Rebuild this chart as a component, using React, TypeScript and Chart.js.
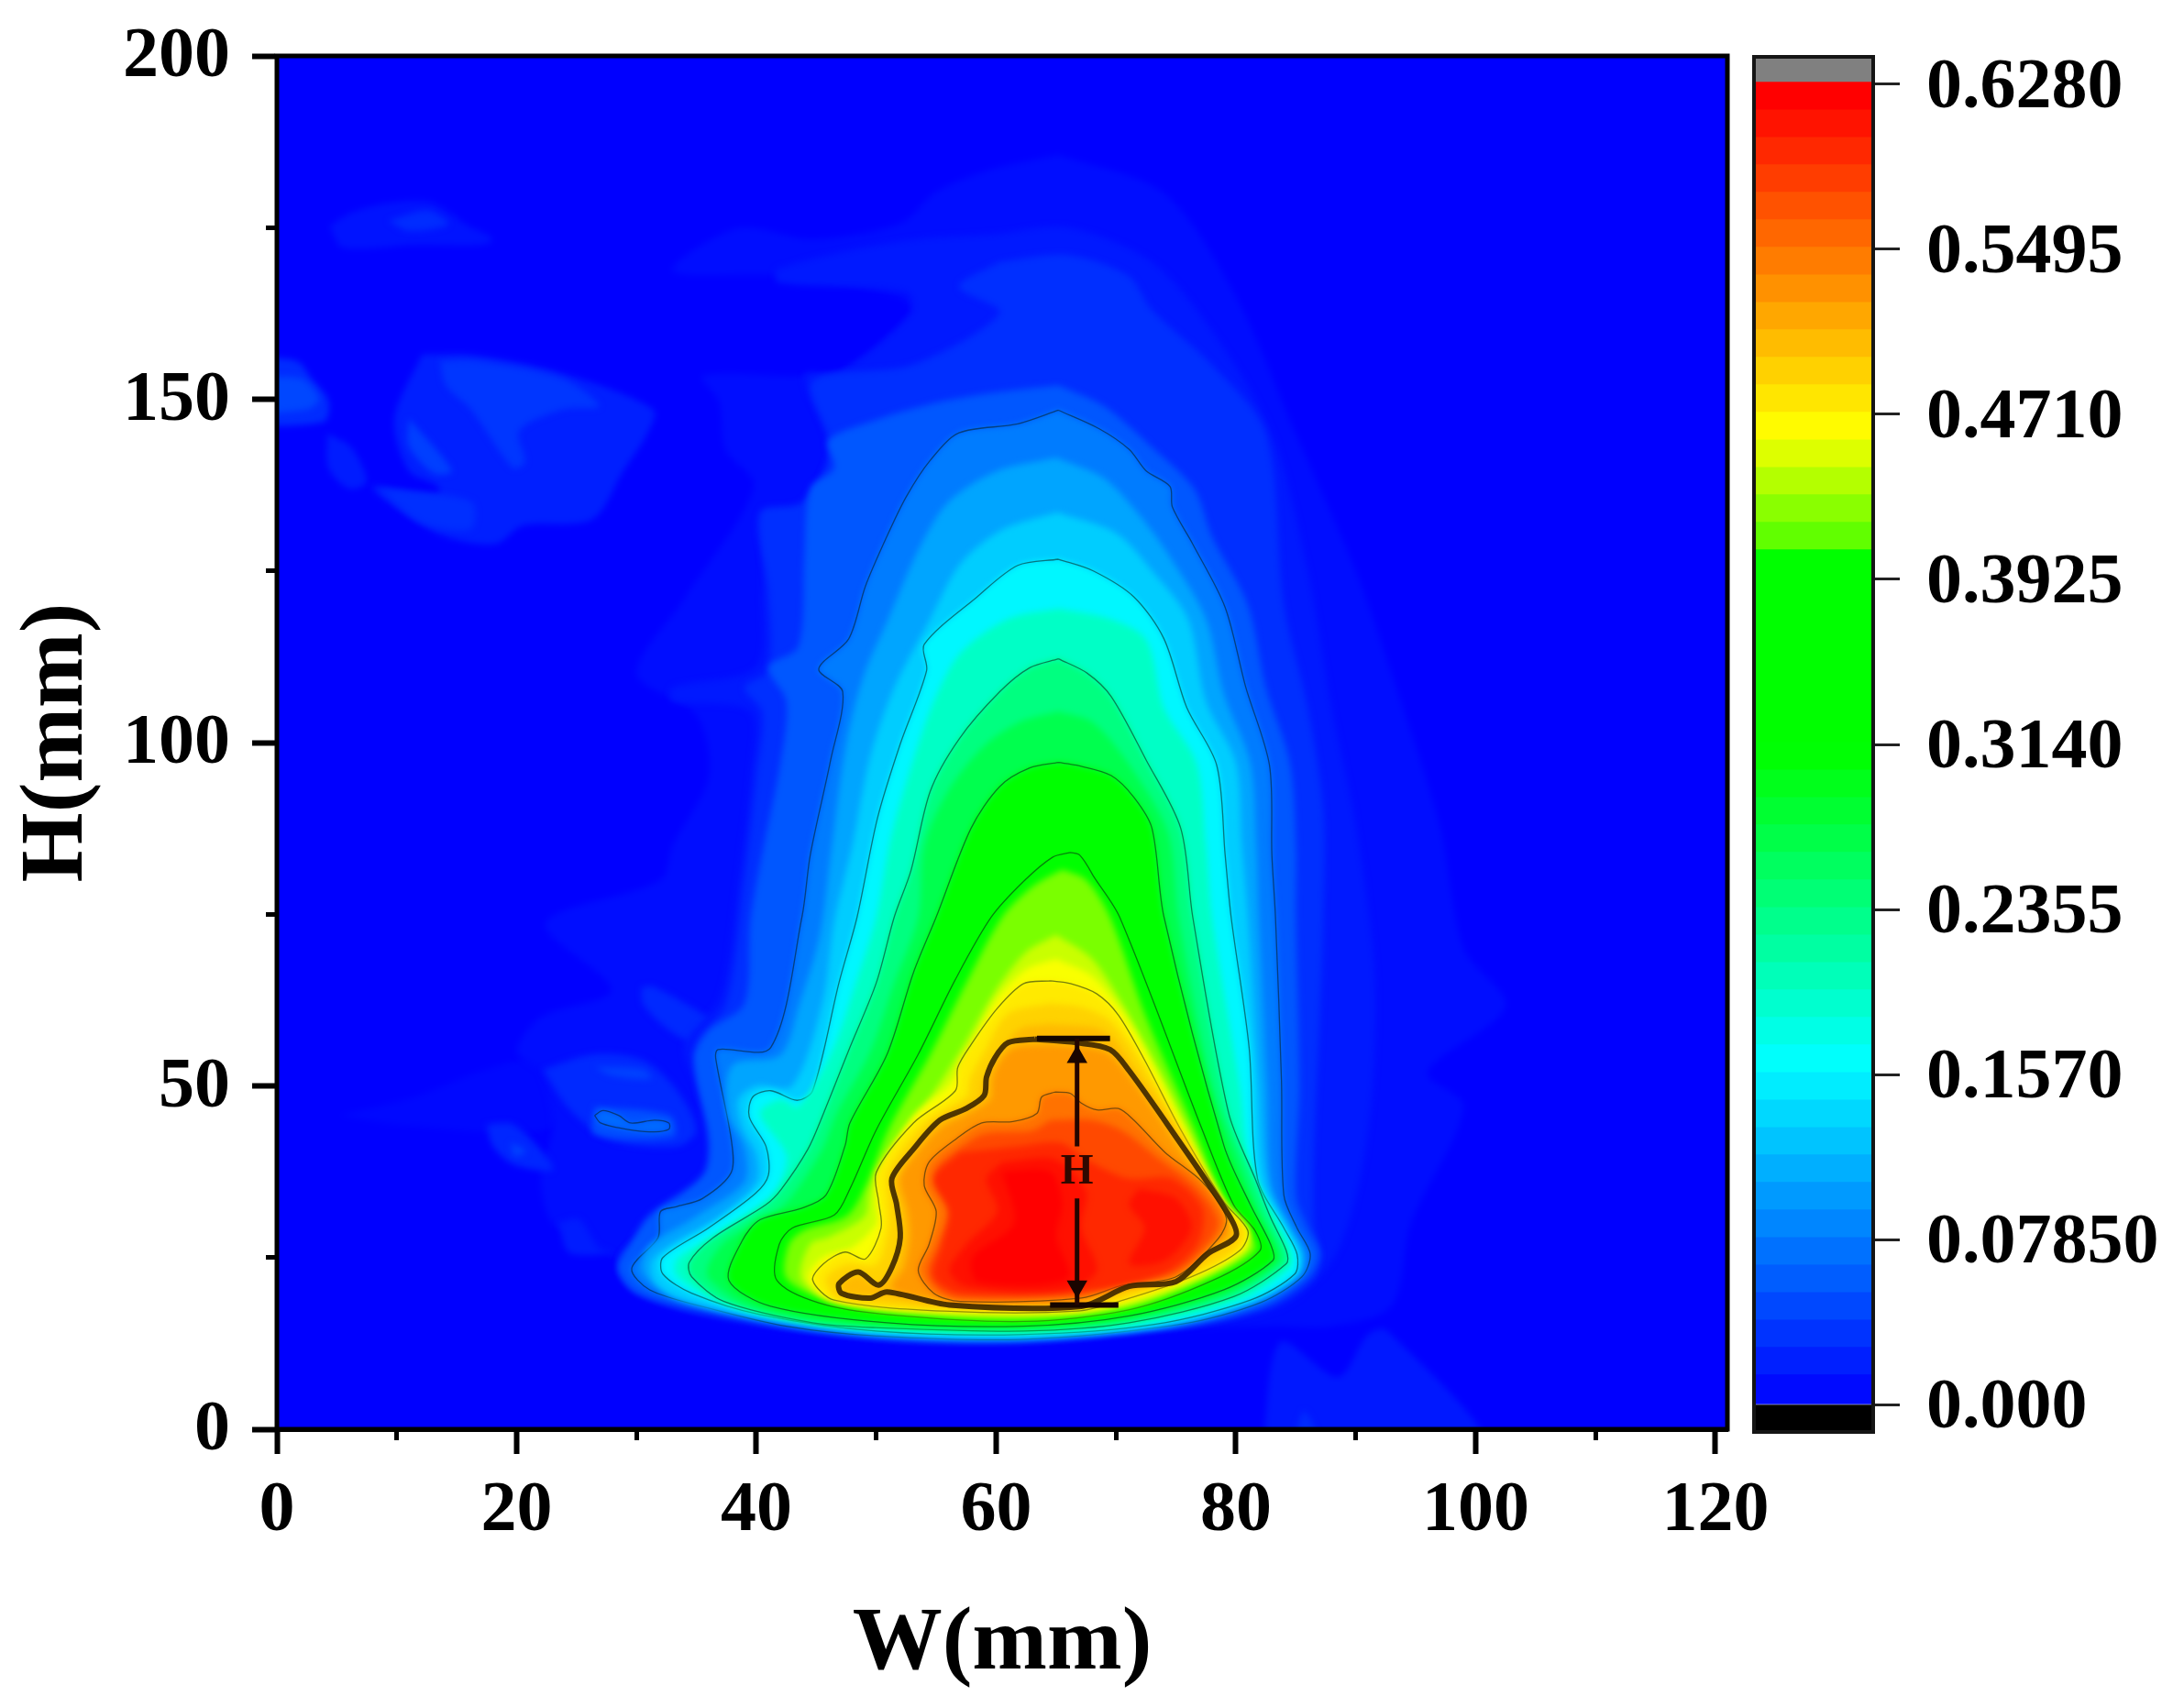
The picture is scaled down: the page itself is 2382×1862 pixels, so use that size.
import React, { useEffect, useRef } from "react";
import { Chart, registerables } from "chart.js";
Chart.register(...registerables);

type P = number[];
const FONT = '"Liberation Serif", "Times New Roman", serif';

const xTitle = "W(mm)";
const yTitle = "H(mm)";
const cbarTicks = [0, 0.0785, 0.157, 0.2355, 0.314, 0.3925, 0.471, 0.5495, 0.628];
const cbarLabels = ["0.000", "0.07850", "0.1570", "0.2355", "0.3140", "0.3925", "0.4710", "0.5495", "0.6280"];
const bandEdges = [0, .0131, .0262, .0392, .0523, .0654, .0785, .0916, .1047, .1178, .1308, .1439, .157, .1701, .1832, .1963, .2093, .2224, .2355, .2486, .2617, .2748, .2878, .3009, .314, .3271, .3402, .3533, .3663, .3794, .3925, .4056, .4187, .4318, .4448, .4579, .471, .4841, .4972, .5103, .5233, .5364, .5495, .5626, .5757, .5888, .6018, .6149, .628];
const colorStops: number[][] = [[0, 0, 0, 255], [.162, 0, 255, 255], [.31, 0, 255, 0], [.405, 0, 255, 0], [.41, 90, 255, 0], [.462, 255, 255, 0], [.62, 255, 0, 0], [.7, 255, 0, 0]];

const plotCorners: P[] = [[-10, -10], [131, -10], [131, 210], [-10, 210]];
const outerA: P[] = [[65.2, 185.6], [59.3, 183.3], [55, 180.2], [52, 175.6], [44.7, 173.3], [38.4, 174.9], [33, 168.7], [42.3, 168], [52, 164.9], [52.8, 162.6], [47.2, 154.2], [43.8, 153.4], [35.5, 153.4], [36.9, 149.6], [37.4, 142.7], [39.8, 137.3], [34, 121], [30, 110], [35, 104], [36, 95], [33, 85], [32, 80], [22.4, 73.7], [27.9, 64], [22, 60], [20, 55], [22, 52], [23, 44], [22, 37], [23, 30], [28, 25], [30, 22], [33, 18], [40, 15], [50, 13], [62, 12.5], [75, 14.5], [83, 15], [88, 15], [93, 18], [94.6, 30], [99, 47], [96, 52], [102.5, 61.6], [99, 70], [97, 88], [93, 110], [90, 125], [85, 145], [80, 165], [74, 180]];
const faintStrip: P[] = [[5.2, 45.7], [11.5, 48.4], [17.5, 52.4], [22.4, 53.7], [23, 44], [11, 44.2]];
const blobTop: P[] = [[4.4, 175.2], [6, 177], [9, 178.5], [12.6, 178.8], [14.6, 177], [15.6, 175.6], [18, 173.4], [17.2, 172.5], [11.6, 172.5], [5.5, 172.1]];
const blobTopIn: P[] = [[9.3, 176], [12.6, 177.5], [14.3, 175.5], [11, 174.5]];
const blobEdge: P[] = [[-3, 156], [1.6, 155.6], [2.9, 153], [4.3, 149.8], [3.9, 146.7], [-3, 147.2]];
const blobEdgeIn: P[] = [[-3, 153], [2, 153], [3.5, 150], [2.5, 148.5], [-3, 148.5]];
const blobSmall: P[] = [[4.2, 145], [6.2, 143], [7.5, 138], [6, 137], [4.3, 140]];
const blobMain: P[] = [[12.1, 156.5], [16.2, 156.5], [23.8, 153.8], [31.4, 148.5], [30.9, 145], [28.9, 139.6], [26.3, 132.5], [20.5, 131.6], [18.2, 128.9], [13.6, 130.3], [8.5, 136], [8, 137.4], [13.4, 136], [13.4, 137.4], [11, 139.6], [9.8, 147.2]];
const blobMainIn: P[] = [[13.6, 155.6], [16.7, 155.6], [23.8, 153], [26.9, 149], [23.8, 148.5], [20.2, 145.4], [20.7, 140.9], [19.7, 140], [16.2, 148.5], [14.1, 152]];
const blobDot: P[] = [[11, 147.2], [14.6, 139.6], [13.1, 139.2], [11, 143.2]];
const blobLow: P[] = [[8.5, 137], [16.2, 135.1], [16.2, 131.1], [12.1, 132]];
const arcUpper: P[] = [[30.4, 64.4], [31.5, 64.4], [36.1, 59.9], [38.8, 56.4], [36.9, 55], [33.4, 57.3], [30.6, 61.7]];
const ringOuter: P[] = [[22.2, 52.4], [26.5, 54.6], [30.6, 53.7], [33.4, 49.3], [35, 43.5], [33.4, 41.2], [27.9, 42.1], [24.4, 46.6]];
const ringArc: P[] = [[26.5, 52.8], [30.6, 52.4], [31.2, 51], [27.9, 51.5]];
const ringInner: P[] = [[26.5, 47], [32.8, 45.7], [33.1, 42.6], [26.5, 43]];
const ringCore: P[] = [[26.5, 45.7], [27.2, 46.4], [28.5, 45.7], [29.5, 44.6], [31.5, 45], [32.7, 44.6], [32.7, 43.7], [31.5, 43.3], [29.8, 43.5], [28.5, 43.9], [27, 44.6]];
const blobSide: P[] = [[17.5, 44.4], [19.7, 44.4], [22.4, 39.9], [23, 37.7], [19.7, 38.6], [18, 41.3]];
const blobSideIn: P[] = [[19.5, 41.8], [20.8, 40.5], [19.8, 39.8]];
const blobFoot: P[] = [[23.5, 30.1], [25.2, 30.6], [26.8, 26.6], [28, 25.7], [24.4, 25.7]];
const bumpRight: P[] = [[82.2, -3], [83.7, 12.7], [88.5, 7.6], [91, 13.8], [92.6, 14.4], [100.8, -3]];
const bumpRightIn: P[] = [[84.7, -3], [85.7, 2.6], [87, -3]];
const bandA2: P[] = [[59.8, 174], [52, 173], [41.8, 169], [41.8, 167], [52.5, 165.7], [53, 162.6], [47, 154], [44, 153.5], [46, 143], [44, 134], [41, 132], [40.5, 122], [40, 111], [33, 108], [33, 106], [39.5, 104.5], [39.5, 95], [38.5, 80], [37, 63], [34, 56], [35, 50], [37, 40], [34, 33], [29, 26], [28.5, 23], [30, 20], [35, 17], [50, 13.2], [62, 12.7], [75, 14.8], [84, 18], [88.5, 26], [91, 43], [91.6, 65.5], [90, 88], [88, 105], [86, 125], [83, 145], [78, 160], [73, 170], [66, 175]];
const bandB: P[] = [[60.3, 170], [56.9, 166.4], [60.3, 162.6], [53, 155], [44.7, 152.6], [46.2, 142.7], [43.8, 135], [40.3, 133.5], [41, 122], [41, 110.5], [39, 108], [40.5, 104.4], [40, 95], [39, 80], [37.5, 62], [35, 56], [35.5, 50], [37.2, 40], [34, 33], [29, 26], [28.5, 23], [30, 19.8], [35, 17], [50, 13.2], [62, 12.7], [75, 14.8], [83, 18], [86.5, 22], [87, 25.5], [86.5, 30], [86.5, 40], [87, 60], [87.3, 75], [87.3, 90], [86, 105], [84, 120], [82.5, 145], [78, 155], [73, 163], [71, 168], [66, 171]];
const bandC: P[] = [[65.2, 152], [60, 151], [55, 149.5], [50, 147], [46, 144], [46.5, 140], [44.5, 137], [44, 127], [43.5, 114], [41, 111], [42.5, 106], [42, 97], [40.5, 84], [39.5, 74], [39, 62], [36, 58], [34.8, 54], [36, 42], [35.5, 37], [31, 31], [29.5, 27], [28.5, 23.5], [30, 20], [35.5, 17.3], [50, 13.4], [62, 12.9], [75.4, 15], [82.5, 18], [86, 22], [87, 25.5], [86, 29.3], [85, 34], [85.3, 50], [85, 74.6], [85, 85], [84.5, 97], [82.5, 108], [81, 120], [78, 130], [76.5, 137], [73, 143], [69, 149]];
const contour1: P[] = [[65.2, 148.4], [61.8, 146.4], [56.9, 145.1], [54.5, 141.1], [52.5, 135.8], [50.8, 129.7], [49.1, 122.8], [47.7, 115.1], [45.2, 110.7], [47.2, 107.4], [46.2, 97.5], [44.5, 83.7], [43.8, 74.6], [41.2, 55.6], [36.8, 55.3], [36.6, 54.1], [37.9, 42.2], [37.9, 37.4], [35.5, 33.6], [33.3, 32.4], [32, 31.7], [31.8, 27.9], [29.6, 23.4], [31.1, 20.3], [35.9, 17.7], [42.5, 15], [50, 13.6], [62.3, 13.1], [75.4, 15.3], [82, 18.4], [85.5, 22.2], [86.2, 25.5], [85.1, 29.3], [84, 34.1], [83.8, 50.8], [83.3, 74.6], [83, 83.7], [82.8, 96.7], [80.8, 108.2], [79.1, 119.7], [76.4, 128.9], [74.7, 134.3], [74.5, 137.3], [72.5, 139.6], [71.1, 142.7], [68.6, 145.7]];
const bandD: P[] = [[65, 141.5], [60, 139.5], [56, 135], [53.5, 128], [51, 118], [49, 110], [47.5, 100], [46.3, 85], [45.3, 72], [43.6, 62], [42, 54.5], [38, 53], [37.6, 46], [39, 41], [39, 36], [35, 31], [31, 26.5], [30.5, 23], [32.5, 20], [38, 17], [50, 14], [62, 13.4], [74.5, 15.3], [81.5, 18.6], [85.3, 22.4], [85.7, 25.5], [84.6, 29.3], [83, 35], [82.6, 50], [81.9, 74.6], [81.7, 85], [81.2, 97], [79, 107], [77.5, 118], [74.5, 127], [72, 133], [69, 138.5]];
const bandE: P[] = [[65.1, 133.5], [60.5, 131], [57, 126], [54.5, 118], [51.5, 108], [49.5, 98], [48, 85], [46.5, 74], [45.5, 62], [43, 50], [40, 50], [38.5, 48], [38.8, 44], [40, 40], [40, 36], [37, 31], [33, 27], [31.3, 24.5], [31.5, 21.5], [33.5, 19], [39, 16.8], [50, 14], [62, 13.5], [74, 15.3], [81.3, 18.7], [85, 22.5], [85.4, 25.5], [84.3, 29.3], [82.5, 36], [81.9, 50], [81, 74.6], [80.5, 85], [80, 97], [77.5, 106], [76, 118], [73, 125], [70, 130.5]];
const contour2: P[] = [[65.2, 126.7], [61.8, 125.8], [58.4, 121.2], [54, 114.3], [54.2, 110.5], [52, 99.8], [50.1, 89], [48.4, 74.6], [46.9, 65.1], [44.7, 49.3], [43.4, 47.9], [41.2, 49.3], [39.7, 48.4], [39.4, 45.5], [40.8, 41.2], [41, 37], [39.9, 34.3], [36, 29.3], [32.2, 25], [32.2, 22.6], [34.6, 19.8], [40.3, 16.7], [50, 14.3], [62.3, 13.8], [73.3, 15.3], [81.2, 18.8], [84.9, 22.6], [85.1, 25.5], [84, 29.3], [81.8, 36.5], [81.1, 55.6], [79.6, 74.6], [79.1, 83.7], [78.4, 96.7], [75.9, 105.1], [74, 115.1], [71.5, 121.2], [68.1, 125]];
const bandF: P[] = [[65.2, 119.5], [61, 118], [57, 113], [54.8, 106], [53, 97], [51.2, 86], [50, 74.6], [48.3, 65], [46.3, 55], [43.5, 47], [42, 48], [40.3, 46], [42.5, 40], [42, 36], [41, 33.5], [37.5, 29], [33.5, 25], [33.3, 22.5], [35.8, 19.5], [40, 17], [50, 14.7], [62, 14], [72, 15.3], [80.5, 19], [84.5, 23.5], [84.6, 25.8], [83.5, 30], [81.3, 37], [80.3, 50], [78, 74.6], [77.5, 85], [76.7, 97], [74, 105], [72.5, 115], [69.5, 118]];
const contour3: P[] = [[65.2, 112.2], [62.8, 110.9], [60.3, 107.4], [56.9, 100.5], [54.5, 92.9], [52.9, 81.4], [51.5, 74.6], [50, 65], [47.8, 55.6], [45.6, 46], [44.3, 40.8], [42.1, 35], [40.8, 32.7], [36.4, 27.9], [34.4, 24.3], [34.6, 22.2], [37.3, 18.6], [44.7, 15.5], [50, 14.8], [62.3, 14.3], [71.1, 15.5], [79.8, 19.3], [84.2, 24.1], [84.2, 26], [82.9, 30.8], [81.6, 36.5], [79.4, 46], [76.4, 74.6], [75.4, 87.5], [72.5, 97.5], [69.6, 106.7], [67.6, 110.1]];
const bandG: P[] = [[65.2, 104.5], [62, 103], [59, 99.5], [56, 93], [54, 85], [53.5, 74.6], [51.5, 65], [49.5, 55], [46.7, 46], [45.5, 40.8], [43, 34], [41.5, 31.5], [37.5, 27.5], [36, 24], [36, 22], [39, 18.2], [46, 15.5], [62, 14.7], [71, 16], [79.4, 19.8], [83.6, 24.3], [83.5, 26.4], [82, 31.5], [80.3, 39], [78, 50], [75.2, 74.6], [74.3, 87], [71, 97], [68, 103]];
const contour4: P[] = [[65.2, 97.1], [62.8, 96.3], [60.3, 93.6], [57.9, 87.5], [55, 74.6], [53.1, 66.5], [50.9, 54.6], [47.8, 44.6], [47.4, 41.3], [45.8, 34.1], [43.8, 32.2], [40.3, 30.5], [38.8, 27.4], [37.7, 21.7], [41.2, 17.9], [50.9, 15.5], [62.3, 15], [71.1, 16.5], [79, 20.3], [83.1, 24.6], [82.9, 26.9], [81.2, 32.7], [79, 41.3], [74, 74.6], [73, 87.5], [71.5, 92], [69.6, 95.2], [66.7, 96.7]];
const contour5: P[] = [[66.2, 84], [64.7, 83.3], [62.3, 79.8], [59.6, 74.6], [56.6, 65.5], [53.5, 54.6], [50, 43.6], [47.8, 35], [46.5, 31.2], [43, 29.3], [41.9, 26.9], [41.7, 21.7], [45.2, 18.4], [50.9, 16.7], [62.3, 15.7], [71.1, 17.4], [78.1, 21.7], [82, 26], [81.6, 28.9], [79.8, 32.7], [77.2, 43.6], [70.3, 74.6], [68.1, 80.6], [67.6, 82.1], [66.9, 83.7]];
const bandH: P[] = [[65.5, 81.5], [63, 79], [60.5, 74.6], [57.5, 65], [54.5, 54.6], [51, 43.6], [49, 35], [47.5, 31], [44, 29], [42.7, 26.9], [42.5, 22], [46, 18.7], [51, 17], [62, 16], [71, 17.6], [77.8, 22], [81.6, 26], [81.1, 28.9], [79.2, 32.7], [76.6, 43.6], [72.5, 60], [69.5, 74.6], [67.5, 80]];
const bandI: P[] = [[65, 72], [62.5, 69.5], [60, 64], [57, 55], [54, 47], [51.5, 41], [49.5, 35], [49, 31], [46, 28], [44.5, 27], [43.7, 22], [46, 19], [52, 17.3], [62, 16.5], [70.5, 18], [77, 22], [81, 26.5], [80.5, 29], [78.5, 33], [76, 43.6], [73, 54], [70.5, 62], [68, 68.5]];
const bandJ: P[] = [[65, 68.5], [62.5, 67], [60, 62.5], [57.5, 54], [56, 50], [53, 45.5], [50.5, 38], [50, 33], [50, 30], [48, 26.5], [45.5, 25], [44.3, 22], [46.3, 18.9], [55, 17.3], [66.5, 17.3], [71, 18.5], [76.5, 22], [80.7, 26], [81, 29], [79, 33], [75.8, 43.6], [72.8, 54], [70.4, 61], [68, 66]];
const contour6: P[] = [[64.5, 65.3], [62.3, 64.9], [60.1, 61.3], [57.9, 56], [56.8, 52.7], [56.6, 49.3], [53.1, 44.6], [50, 37.4], [50.2, 33.1], [50.4, 29.3], [49.1, 24.8], [47.4, 25.8], [45.6, 24.1], [44.7, 21.7], [46.5, 18.8], [55.7, 17.2], [66.7, 17.2], [70.6, 18.8], [76.3, 22.2], [80.3, 26], [81, 28.9], [79, 33.1], [75.4, 43.6], [72.4, 53.7], [70.2, 60.3], [68.4, 63.4], [66.2, 64.9]];
const bandK: P[] = [[64.5, 62], [61, 60.5], [59, 55], [57.8, 51], [57.5, 48.5], [54, 44.5], [51, 37.5], [51, 33], [51, 29], [50, 24], [47.5, 24], [45.8, 22], [46.8, 19], [55, 17.6], [66.5, 17.7], [71, 19.3], [76.5, 22.7], [80, 26.2], [80.5, 29], [78.7, 33], [75.3, 43.6], [72, 53.7], [69.5, 59.5], [67, 61.5]];
const bandL: P[] = [[64.5, 59], [62, 58.3], [60.3, 55], [59, 51], [58.5, 48], [55, 44.7], [52.3, 38.5], [51.5, 36], [52, 32], [52.2, 28], [51.5, 23.5], [50, 21], [48.5, 22.5], [47, 21], [47.3, 19.8], [50, 19.3], [56, 18], [67, 18], [71, 20.3], [75, 21.8], [77.8, 25.7], [80, 28.2], [79.2, 31.2], [75, 43.6], [71.5, 52.5], [69, 58]];
const bandM: P[] = [[64.5, 56], [61.5, 55.5], [60.3, 53.5], [59.7, 51], [59.5, 48], [57.5, 45.8], [55.5, 44], [53.5, 40.5], [52, 36.5], [52.6, 32], [52.8, 28], [52.3, 23.5], [51.3, 20.5], [56, 18.8], [67, 18.6], [71, 21.2], [75, 22], [77.5, 26], [79.4, 28.3], [78.8, 31], [74.2, 43.6], [70.8, 52], [69, 55]];
const contour7: P[] = [[64.9, 49.1], [63.8, 48.4], [63.4, 46], [61.4, 44.8], [58.8, 44.6], [56.6, 42.2], [54.4, 38.9], [54, 35.5], [55, 31.7], [54.4, 26.9], [53.5, 23.1], [54.8, 19.8], [57, 18.6], [67.1, 19.1], [70.6, 21], [75, 22.2], [78.5, 27.7], [79.2, 30.8], [77.2, 36], [74.1, 40.3], [71.5, 45], [70.2, 46.7], [68.4, 46.5], [67.1, 47.5], [66.2, 48.9]];
const bandO: P[] = [[64.5, 45], [63, 43.5], [59, 43], [57, 41], [55, 38], [55, 35.5], [56, 31.7], [55.2, 27], [54.3, 23], [55.3, 20.3], [57.2, 19.2], [67, 19.7], [70.5, 21.7], [75, 23], [78, 27.8], [78.5, 30.6], [76.5, 35.5], [73.5, 39.5], [70.5, 43.5], [68, 45]];
const bandP: P[] = [[57, 40.3], [61.8, 41.2], [65.4, 41.7], [67.5, 39.3], [71, 36.5], [74.6, 36.5], [77.2, 32.2], [76.8, 26.9], [74.1, 22.7], [68.4, 20.3], [57, 19.8], [54.8, 22.2], [55.5, 26.9], [56.1, 31.7], [54.8, 36.5]];
const redA: P[] = [[60.5, 38.9], [64.9, 39.3], [67.5, 34.6], [67.1, 29.3], [68.4, 23.1], [65.8, 20.3], [57.5, 20.8], [56.1, 23.1], [57.5, 26.9], [60.1, 31.7], [59.2, 36.5]];
const redB: P[] = [[71.9, 35], [75, 33.6], [76.3, 29.3], [74.1, 24.6], [71.1, 24.1], [72.4, 29.3], [71.1, 32.7]];
const redCore: P[] = [[60.5, 37.5], [64.5, 37.5], [65.5, 33], [65, 28], [66, 22], [58.5, 21.5], [58, 25], [61.5, 30]];

const heightOutline: P[] = [[63.2, 56.8], [61, 56.3], [59.9, 54.1], [59.2, 51.3], [59, 48.6], [57.5, 46.7], [55.3, 45], [53.1, 40.8], [51.3, 36.5], [51.7, 32.7], [52, 27.9], [51.3, 23.6], [50.2, 21], [48.5, 22.9], [46.9, 21.2], [47.1, 19.8], [49.5, 19.1], [50.9, 20], [56.1, 18.1], [67.1, 17.9], [71.1, 20.8], [75, 21.5], [77.6, 25.5], [80, 28.1], [79.4, 31.2], [74.6, 43.6], [71.1, 52.2], [69.5, 55.3], [66.7, 56.3]];
const capTop: P[] = [[63.4, 56.9], [69.5, 56.9]];
const capBottom: P[] = [[64.5, 18.1], [70.2, 18.1]];
const stemUpper: P[] = [[66.75, 56.9], [66.75, 41.2]];
const stemLower: P[] = [[66.75, 33.6], [66.75, 18.1]];
const arrowUp: P[] = [[66.75, 54.2]];
const arrowDown: P[] = [[66.75, 20.8]];
const hLabel = { x: 66.75, y: 37.4, text: "H" };

const colorFor = (v: number) => {
  for (let i = 1; i < colorStops.length; i++) {
    const a = colorStops[i - 1], b = colorStops[i];
    if (v <= b[0]) {
      const t = (v - a[0]) / (b[0] - a[0]);
      return `rgb(${[1, 2, 3].map((k) => Math.round(a[k] + (b[k] - a[k]) * t)).join(",")})`;
    }
  }
  return "rgb(255,0,0)";
};

const layers: { level: number; pts: P[]; line?: boolean }[] = [
  { level: 0, pts: plotCorners },
  { level: .005, pts: faintStrip },
  { level: .008, pts: outerA },
  { level: .015, pts: bumpRight },
  { level: .028, pts: bumpRightIn },
  { level: .012, pts: blobTop },
  { level: .028, pts: blobTopIn },
  { level: .028, pts: blobEdge },
  { level: .045, pts: blobEdgeIn },
  { level: .018, pts: blobSmall },
  { level: .02, pts: blobMain },
  { level: .034, pts: blobMainIn },
  { level: .04, pts: blobDot },
  { level: .03, pts: blobLow },
  { level: .026, pts: arcUpper },
  { level: .026, pts: ringOuter },
  { level: .042, pts: ringArc },
  { level: .05, pts: ringInner },
  { level: .068, pts: ringCore, line: true },
  { level: .024, pts: blobSide },
  { level: .042, pts: blobSideIn },
  { level: .018, pts: blobFoot },
  { level: .016, pts: bandA2 },
  { level: .03, pts: bandB },
  { level: .055, pts: bandC },
  { level: .0785, pts: contour1, line: true },
  { level: .105, pts: bandD },
  { level: .13, pts: bandE },
  { level: .157, pts: contour2, line: true },
  { level: .195, pts: bandF },
  { level: .2355, pts: contour3, line: true },
  { level: .265, pts: bandG },
  { level: .314, pts: contour4, line: true },
  { level: .3925, pts: contour5, line: true },
  { level: .42, pts: bandH },
  { level: .445, pts: bandI },
  { level: .46, pts: bandJ },
  { level: .475, pts: contour6, line: true },
  { level: .49, pts: bandK },
  { level: .505, pts: bandL },
  { level: .525, pts: bandM },
  { level: .5495, pts: contour7, line: true },
  { level: .575, pts: bandO },
  { level: .595, pts: bandP },
  { level: .61, pts: redA },
  { level: .61, pts: redB },
  { level: .62, pts: redCore },
];

const toXY = (pts: P[]) => pts.map(([x, y]) => ({ x, y }));
const closed = (pts: P[]) => toXY([...pts, pts[0]]);
const inkLine = (pts: P[], w: number, color: string, tension = 0) => ({
  data: toXY(pts), showLine: true, fill: false, borderColor: color, borderWidth: w, pointRadius: 0, tension,
});
const arrow = (pts: P[], rotation: number) => ({
  data: toXY(pts), showLine: false, pointStyle: "triangle", pointRadius: 13, pointRotation: rotation,
  pointBackgroundColor: "#1a0500", pointBorderWidth: 0,
});

// Softens the filled bands only: the filler paints in its own hook, before this one runs.
const softFill = {
  id: "softFill",
  beforeDatasetsDraw(chart: any) { chart.ctx.filter = "blur(3.5px)"; },
  beforeDatasetDraw(chart: any) { chart.ctx.filter = "none"; },
  afterDatasetDraw(chart: any) { chart.ctx.filter = "blur(3.5px)"; },
  afterDatasetsDraw(chart: any) { chart.ctx.filter = "none"; },
};
const frame = {
  id: "frame",
  afterDatasetsDraw(chart: any) {
    const { ctx, chartArea: a, scales } = chart;
    ctx.save();
    ctx.strokeStyle = "#000";
    ctx.lineWidth = 5;
    ctx.strokeRect(a.left, a.top, a.right - a.left, a.bottom - a.top);
    ctx.fillStyle = "#300800";
    ctx.font = `bold 46px ${FONT}`;
    ctx.textAlign = "center";
    ctx.textBaseline = "middle";
    ctx.fillText(hLabel.text, scales.x.getPixelForValue(hLabel.x), scales.y.getPixelForValue(hLabel.y));
    ctx.restore();
  },
};
const barFrame = {
  id: "barFrame",
  afterDatasetsDraw(chart: any) {
    const { ctx, chartArea: a } = chart;
    ctx.save();
    ctx.strokeStyle = "#151515";
    ctx.lineWidth = 4;
    ctx.strokeRect(a.left, a.top, a.right - a.left, a.bottom - a.top);
    ctx.restore();
  },
};

export default function App() {
  const mainRef = useRef<HTMLCanvasElement>(null);
  const barRef = useRef<HTMLCanvasElement>(null);
  useEffect(() => {
    const tickFont = { family: FONT, weight: "bold" as const, size: 78, lineHeight: 1 };
    const titleFont = { family: FONT, weight: "bold" as const, size: 98, lineHeight: 1 };
    const fills = layers.map((l) => ({
      data: closed(l.pts), showLine: true, fill: "shape", backgroundColor: colorFor(l.level),
      borderColor: l.line ? "rgba(10,30,20,0.55)" : "rgba(0,0,0,0)", borderWidth: l.line ? 1.3 : 0,
      pointRadius: 0, tension: 0.3,
    }));
    const marks = [
      inkLine([...heightOutline, heightOutline[0]], 6, "rgba(60,38,0,0.9)", 0.3),
      inkLine(capTop, 6, "#140500"), inkLine(capBottom, 6, "#140500"),
      inkLine(stemUpper, 5, "#240500"), inkLine(stemLower, 5, "#240500"),
      arrow(arrowUp, 0), arrow(arrowDown, 180),
    ];
    const main = new Chart(mainRef.current!, {
      type: "scatter",
      data: { datasets: [...fills, ...marks].reverse() as any },
      plugins: [softFill, frame],
      options: {
        animation: false, responsive: false, devicePixelRatio: 1,
        layout: { padding: { left: 0, top: 61, right: 498, bottom: 0 } },
        plugins: { legend: { display: false }, tooltip: { enabled: false } },
        scales: {
          x: {
            type: "linear", position: "bottom", weight: 1, min: 0, max: 121,
            afterFit: (s: any) => { s.height = 303; },
            grid: { drawOnChartArea: false, tickLength: 27, tickWidth: 6, tickColor: "#000" },
            border: { display: true, color: "#000", width: 5 },
            ticks: { stepSize: 20, includeBounds: false, autoSkip: false, maxRotation: 0, color: "#000", font: tickFont, padding: 24 },
            title: { display: true, text: xTitle, color: "#000", font: titleFont, padding: { top: 0, bottom: 18 } },
          },
          xMinor: {
            type: "linear", position: "bottom", weight: 0, min: 0, max: 121,
            afterFit: (s: any) => { s.height = 0; },
            grid: { drawOnChartArea: false, tickLength: 12, tickWidth: 5, tickColor: "#000" },
            border: { display: false },
            ticks: { stepSize: 10, includeBounds: false, autoSkip: false, callback: () => "", padding: 0, font: { size: 1 } },
          },
          y: {
            type: "linear", position: "left", weight: 1, min: 0, max: 200,
            afterFit: (s: any) => { s.width = 302; s.paddingTop = 0; s.paddingBottom = 0; },
            grid: { drawOnChartArea: false, tickLength: 27, tickWidth: 6, tickColor: "#000" },
            border: { display: true, color: "#000", width: 5 },
            ticks: { stepSize: 50, includeBounds: false, autoSkip: false, color: "#000", font: tickFont, padding: 24, labelOffset: 2 },
            title: { display: true, text: yTitle, color: "#000", font: titleFont, padding: { top: 15, bottom: 0 } },
          },
          yMinor: {
            type: "linear", position: "left", weight: 0, min: 0, max: 200,
            afterFit: (s: any) => { s.width = 0; s.paddingTop = 0; s.paddingBottom = 0; },
            grid: { drawOnChartArea: false, tickLength: 12, tickWidth: 5, tickColor: "#000" },
            border: { display: false },
            ticks: { stepSize: 25, includeBounds: false, autoSkip: false, callback: () => "", padding: 0, font: { size: 1 } },
          },
        },
      } as any,
    });

    const bands = bandEdges.slice(0, -1).map((lo, i) => {
      const hi = bandEdges[i + 1];
      return { data: [[lo, hi + 0.001]], backgroundColor: colorFor((lo + hi) / 2), barPercentage: 1, categoryPercentage: 1, grouped: false, borderWidth: 0 };
    });
    const caps = [
      { data: [[0.628, 0.64108]], backgroundColor: "#808080", barPercentage: 1, categoryPercentage: 1, grouped: false, borderWidth: 0 },
      { data: [[-0.01308, 0]], backgroundColor: "#000", barPercentage: 1, categoryPercentage: 1, grouped: false, borderWidth: 0 },
    ];
    const bar = new Chart(barRef.current!, {
      type: "bar",
      data: { labels: [""], datasets: [...bands, ...caps] as any },
      plugins: [barFrame],
      options: {
        animation: false, responsive: false, devicePixelRatio: 1,
        layout: { padding: { left: 33, top: 62, right: 0, bottom: 300 } },
        plugins: { legend: { display: false }, tooltip: { enabled: false } },
        scales: {
          x: { display: false },
          y: {
            type: "linear", position: "right", min: -0.01308, max: 0.64108,
            afterFit: (s: any) => { s.width = 339; s.paddingTop = 0; s.paddingBottom = 0; },
            afterBuildTicks: (s: any) => { s.ticks = cbarTicks.map((value) => ({ value })); },
            grid: { drawOnChartArea: false, tickLength: 29, tickWidth: 3, tickColor: "#222" },
            border: { display: false },
            ticks: {
              autoSkip: false, color: "#000", font: tickFont, padding: 29, labelOffset: 5,
              callback: (v: any) => cbarLabels[cbarTicks.indexOf(v)] ?? "",
            },
          },
        },
      } as any,
    });
    return () => { main.destroy(); bar.destroy(); };
  }, []);

  return (
    <div style={{ position: "absolute", left: 0, top: 0, width: 2382, height: 1862, background: "#fff", overflow: "hidden" }}>
      <canvas ref={mainRef} width={2382} height={1862} style={{ position: "absolute", left: 0, top: 0, width: 2382, height: 1862 }} />
      <canvas ref={barRef} width={502} height={1862} style={{ position: "absolute", left: 1880, top: 0, width: 502, height: 1862 }} />
    </div>
  );
}
